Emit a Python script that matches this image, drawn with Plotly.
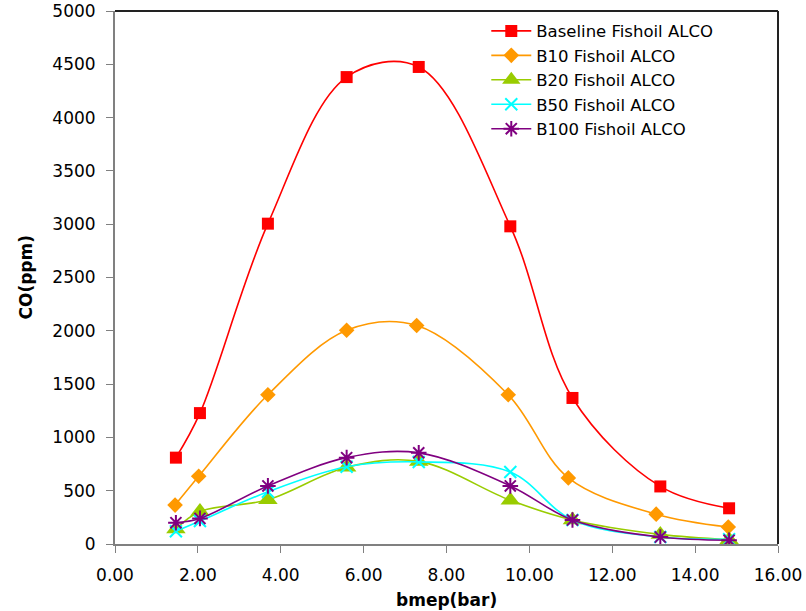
import plotly.graph_objects as go

x_bmep = [1.47, 2.05, 3.69, 5.59, 7.33, 9.54, 11.04, 13.16, 14.82]
x_b10 = [1.45, 2.02, 3.69, 5.59, 7.28, 9.49, 10.94, 13.06, 14.80]

baseline = [810, 1228, 3005, 4380, 4475, 2980, 1370, 540, 335]
b10 = [365, 635, 1400, 2005, 2050, 1400, 620, 280, 160]
b20 = [140, 305, 415, 720, 775, 410, 225, 90, 40]
b50 = [120, 215, 490, 725, 770, 675, 225, 65, 45]
b100 = [200, 240, 545, 810, 855, 545, 225, 65, 35]

names = ["Baseline Fishoil ALCO", "B10 Fishoil ALCO", "B20 Fishoil ALCO",
         "B50 Fishoil ALCO", "B100 Fishoil ALCO"]

FONT = "DejaVu Sans"
SM = 1.0

fig = go.Figure()
fig.add_trace(go.Scatter(x=x_bmep, y=baseline, name=names[0], mode="lines+markers",
                         line=dict(color="#FF0000", width=1.6, shape="spline", smoothing=SM),
                         marker=dict(symbol="square", size=12, color="#FF0000")))
fig.add_trace(go.Scatter(x=x_b10, y=b10, name=names[1], mode="lines+markers",
                         line=dict(color="#FF9900", width=1.6, shape="spline", smoothing=SM),
                         marker=dict(symbol="diamond", size=12, color="#FF9900")))
fig.add_trace(go.Scatter(x=x_bmep, y=b20, name=names[2], mode="lines+markers",
                         line=dict(color="#99CC00", width=1.6, shape="spline", smoothing=SM),
                         marker=dict(symbol="triangle-up", size=17, color="#99CC00")))
fig.add_trace(go.Scatter(x=x_bmep, y=b50, name=names[3], mode="lines+markers",
                         line=dict(color="#00FFFF", width=1.6, shape="spline", smoothing=SM),
                         marker=dict(symbol="x-thin-open", size=12, color="#00FFFF",
                                     line=dict(color="#00FFFF", width=2))))
fig.add_trace(go.Scatter(x=x_bmep, y=b100, name=names[4], mode="lines+markers",
                         line=dict(color="#800080", width=1.6, shape="spline", smoothing=SM),
                         marker=dict(symbol="asterisk-open", size=13, color="#800080",
                                     line=dict(color="#800080", width=2))))

fig.update_layout(
    width=806, height=611,
    margin=dict(l=115, r=28, t=11, b=67),
    plot_bgcolor="white", paper_bgcolor="white",
    font=dict(family=FONT, size=17, color="black"),
    showlegend=True,
    legend=dict(x=0.56, y=0.995, xanchor="left", yanchor="top",
                bgcolor="rgba(0,0,0,0)", font=dict(size=16.5, family=FONT),
                tracegroupgap=0, itemwidth=40),
    xaxis=dict(range=[0, 16], dtick=2, tickformat=".2f", showgrid=False,
               zeroline=False, showline=True, linecolor="#808080", linewidth=2,
               ticks="outside", ticklen=7, tickcolor="#808080", automargin=False,
               ticklabelstandoff=8),
    yaxis=dict(range=[0, 5000], dtick=500, showgrid=False, zeroline=False,
               showline=True, linecolor="#808080", linewidth=2,
               ticks="outside", ticklen=7, tickcolor="#808080", automargin=False,
               ticklabelstandoff=7),
)
fig.add_annotation(text="<b>bmep(bar)</b>", xref="paper", yref="paper", x=0.5, y=0,
                   yanchor="middle", yshift=-56, showarrow=False, font=dict(size=17))
fig.add_annotation(text="<b>CO(ppm)</b>", xref="paper", yref="paper", x=0, y=0.5,
                   xanchor="center", xshift=-90, textangle=-90, showarrow=False,
                   font=dict(size=17))
fig.add_shape(type="line", xref="paper", yref="paper", x0=0, x1=1, y0=1, y1=1,
              line=dict(color="#222222", width=2))
fig.add_shape(type="line", xref="paper", yref="paper", x0=1, x1=1, y0=0, y1=1,
              line=dict(color="#222222", width=2))

fig.write_html("out.html", config={"displayModeBar": False},
               post_script="document.body.style.margin='0';")
